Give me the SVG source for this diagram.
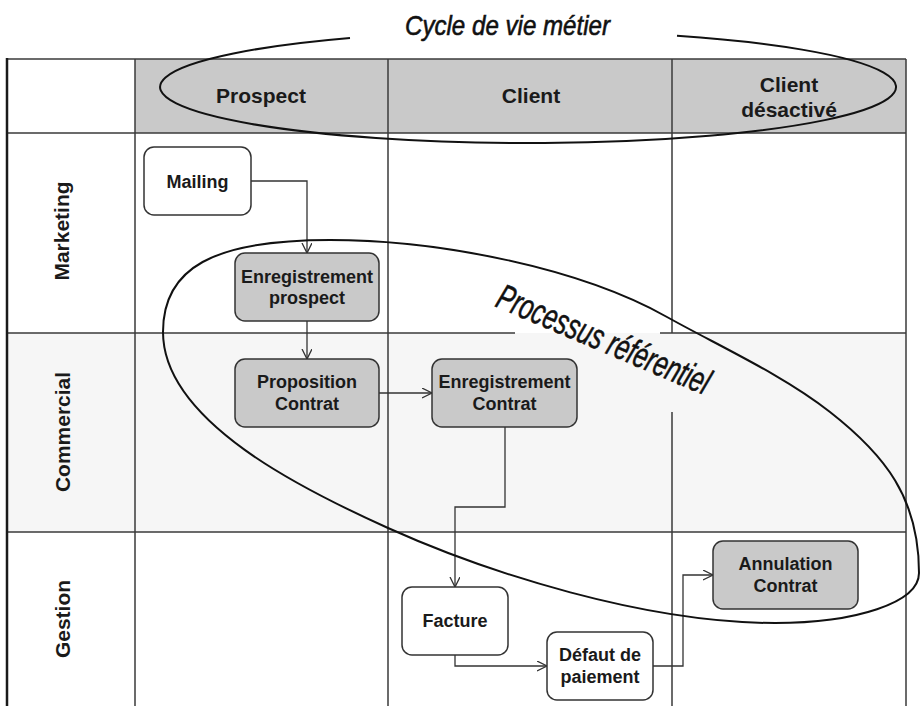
<svg xmlns="http://www.w3.org/2000/svg" width="920" height="706" viewBox="0 0 920 706">
  <defs>
    <style>
      .grid { stroke: #3a3a3a; stroke-width: 1.5; fill: none; }
      .edge { stroke: #1a1a1a; stroke-width: 2.5; fill: none; }
      .box { stroke: #333; stroke-width: 1.5; }
      .act { fill: #c9c9c9; }
      .plain { fill: #ffffff; }
      .lbl { font-family: "Liberation Sans", Arial, sans-serif; font-weight: bold; font-size: 18px; fill: #1a1a1a; text-anchor: middle; }
      .hdr { font-size: 21px; }
      .conn { fill: none; stroke: #333; stroke-width: 1.3; }
      .loop { fill: none; stroke: #111; stroke-width: 2; }
      .note { font-family: "Liberation Sans", Arial, sans-serif; font-style: italic; fill: #111; stroke: #111; stroke-width: 0.6; }
    </style>
    <marker id="arrow" markerUnits="userSpaceOnUse" markerWidth="12" markerHeight="12" refX="10" refY="5" orient="auto">
      <path d="M0,0 L10,5 L0,10" fill="none" stroke="#333" stroke-width="1.3"/>
    </marker>
  </defs>

  <rect width="920" height="706" fill="#ffffff"/>

  <!-- swimlane table -->
  <g id="table">
    <rect x="135" y="59" width="771" height="74" fill="#c9c9c9"/>
    <rect x="8" y="333" width="898" height="199" fill="#f6f6f6"/>
    <line class="grid" x1="7" y1="59" x2="906" y2="59"/>
    <line class="grid" x1="7" y1="133" x2="906" y2="133"/>
    <line class="grid" x1="7" y1="333" x2="515" y2="333"/>
    <line class="grid" x1="660" y1="333" x2="906" y2="333"/>
    <line class="grid" x1="7" y1="532" x2="906" y2="532"/>
    <line class="grid" x1="135" y1="59" x2="135" y2="706"/>
    <line class="grid" x1="388" y1="59" x2="388" y2="706"/>
    <line class="grid" x1="672" y1="59" x2="672" y2="333"/>
    <line class="grid" x1="672" y1="412" x2="672" y2="706"/>
    <line class="grid" x1="906" y1="59" x2="906" y2="706"/>
    <line class="edge" x1="7" y1="58" x2="7" y2="706"/>
  </g>

  <!-- column headers -->
  <g id="headers">
    <text class="lbl hdr" x="261" y="103">Prospect</text>
    <text class="lbl hdr" x="531" y="103">Client</text>
    <text class="lbl hdr" x="789" y="92">Client</text>
    <text class="lbl hdr" x="789" y="117">désactivé</text>
  </g>

  <!-- lane titles -->
  <g id="lanes">
    <text class="lbl hdr" transform="translate(69,231) rotate(-90)">Marketing</text>
    <text class="lbl hdr" transform="translate(70,432) rotate(-90)">Commercial</text>
    <text class="lbl hdr" transform="translate(70,619) rotate(-90)">Gestion</text>
  </g>

  <!-- connectors -->
  <g id="connectors">
    <path class="conn" d="M251,181 H307 V253" marker-end="url(#arrow)"/>
    <path class="conn" d="M307,321 V359" marker-end="url(#arrow)"/>
    <path class="conn" d="M379,393 H432" marker-end="url(#arrow)"/>
    <path class="conn" d="M505,427 V507 H455 V587" marker-end="url(#arrow)"/>
    <path class="conn" d="M455,655 V666 H547" marker-end="url(#arrow)"/>
    <path class="conn" d="M653,666 H683 V575 H713" marker-end="url(#arrow)"/>
  </g>

  <!-- activities -->
  <g id="mailing">
    <rect class="box plain" x="144" y="147" width="107" height="68" rx="10"/>
    <text class="lbl" x="197.5" y="188">Mailing</text>
  </g>
  <g id="enregistrement-prospect">
    <rect class="box act" x="235" y="253" width="144" height="68" rx="10"/>
    <text class="lbl" x="307" y="283">Enregistrement</text>
    <text class="lbl" x="307" y="304">prospect</text>
  </g>
  <g id="proposition-contrat">
    <rect class="box act" x="235" y="359" width="144" height="68" rx="10"/>
    <text class="lbl" x="307" y="388">Proposition</text>
    <text class="lbl" x="307" y="410">Contrat</text>
  </g>
  <g id="enregistrement-contrat">
    <rect class="box act" x="432" y="359" width="145" height="68" rx="10"/>
    <text class="lbl" x="504.5" y="388">Enregistrement</text>
    <text class="lbl" x="504.5" y="410">Contrat</text>
  </g>
  <g id="facture">
    <rect class="box plain" x="402" y="587" width="106" height="68" rx="10"/>
    <text class="lbl" x="455" y="627">Facture</text>
  </g>
  <g id="defaut-paiement">
    <rect class="box plain" x="547" y="632" width="106" height="68" rx="10"/>
    <text class="lbl" x="600" y="661">Défaut de</text>
    <text class="lbl" x="600" y="683">paiement</text>
  </g>
  <g id="annulation-contrat">
    <rect class="box act" x="713" y="541" width="145" height="68" rx="10"/>
    <text class="lbl" x="785.5" y="570">Annulation</text>
    <text class="lbl" x="785.5" y="592">Contrat</text>
  </g>

  <!-- business lifecycle loop around the column headers -->
  <g id="cycle">
    <path class="loop" d="M350,38 A368,56 0 1 0 677,35.8"/>
    <text class="note" x="405" y="35" font-size="28" textLength="205" lengthAdjust="spacingAndGlyphs">Cycle de vie métier</text>
  </g>

  <!-- reference process loop -->
  <g id="processus">
    <path class="loop" d="M163,332 C163,268 213,240 330,240 C440,240 580,268 667,317 C719,346 783,375 830,412 C885,455 919,498 919,573 C919,603 855,623 775,623 C645,623 488,573 388,528 C306,491 163,422 163,332 Z"/>
    <text class="note" transform="translate(494,306) rotate(23)" font-size="36" textLength="228" lengthAdjust="spacingAndGlyphs">Processus référentiel</text>
  </g>
</svg>
